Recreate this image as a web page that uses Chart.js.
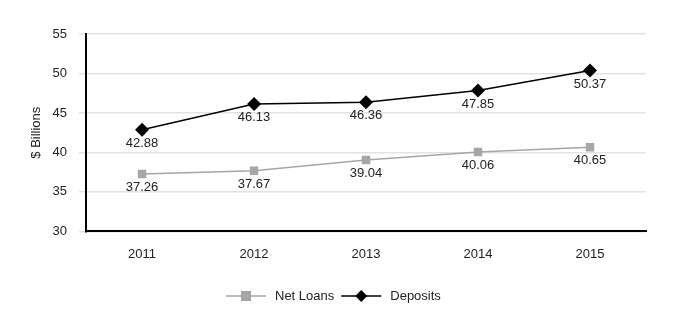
<!DOCTYPE html>
<html>
<head>
<meta charset="utf-8">
<script src="https://cdn.jsdelivr.net/npm/chart.js@4/dist/chart.umd.min.js"></script>
<style>
  html, body { margin: 0; padding: 0; background: #fff; }
  #wrap { width: 680px; height: 333px; }
</style>
</head>
<body>
<div id="wrap"><canvas id="chart" width="680" height="333"></canvas></div>
<script>
const years = ['2011', '2012', '2013', '2014', '2015'];
const netLoans = [37.26, 37.67, 39.04, 40.06, 40.65];
const deposits = [42.88, 46.13, 46.36, 47.85, 50.37];
const yTicks = [30, 35, 40, 45, 50, 55];

const FONT = 'Liberation Sans, Arial, sans-serif';

// value labels under each marker
const valueLabels = {
    id: 'valueLabels',
    afterDatasetsDraw(chart) {
        const ctx = chart.ctx;
        ctx.save();
        ctx.font = '13px ' + FONT;
        ctx.fillStyle = '#222';
        ctx.textAlign = 'center';
        ctx.textBaseline = 'top';
        chart.data.datasets.forEach((ds, i) => {
            chart.getDatasetMeta(i).data.forEach((pt, j) => {
                ctx.fillText(ds.data[j].toFixed(2), pt.x, pt.y + 7);
            });
        });
        ctx.restore();
    }
};

// legend: short line with marker in the middle
const lineLegend = {
    id: 'lineLegend',
    afterDraw(chart) {
        const ctx = chart.ctx;
        ctx.save();
        ctx.font = '13px ' + FONT;
        ctx.textBaseline = 'middle';
        const y = 296;
        let x = 226;
        chart.data.datasets.forEach(ds => {
            ctx.strokeStyle = ds.borderColor;
            ctx.lineWidth = 1.5;
            ctx.beginPath();
            ctx.moveTo(x, y);
            ctx.lineTo(x + 40, y);
            ctx.stroke();
            ctx.fillStyle = ds.pointBackgroundColor;
            ctx.beginPath();
            if (ds.pointStyle === 'rectRot') {
                ctx.moveTo(x + 20, y - 6);
                ctx.lineTo(x + 26, y);
                ctx.lineTo(x + 20, y + 6);
                ctx.lineTo(x + 14, y);
                ctx.closePath();
            } else {
                ctx.rect(x + 15, y - 5, 10, 10);
            }
            ctx.fill();
            ctx.fillStyle = '#222';
            ctx.fillText(ds.label, x + 49, y);
            x += 49 + ctx.measureText(ds.label).width + 7;
        });
        ctx.restore();
    }
};

new Chart(document.getElementById('chart'), {
    type: 'line',
    data: {
        labels: years,
        datasets: [{
            label: 'Net Loans',
            data: netLoans,
            borderColor: '#a6a6a6',
            backgroundColor: '#a6a6a6',
            pointBackgroundColor: '#a6a6a6',
            pointBorderWidth: 0,
            borderWidth: 1.5,
            pointStyle: 'rect',
            pointRadius: 6,
            tension: 0
        }, {
            label: 'Deposits',
            data: deposits,
            borderColor: '#000',
            backgroundColor: '#000',
            pointBackgroundColor: '#000',
            pointBorderWidth: 0,
            borderWidth: 1.5,
            pointStyle: 'rectRot',
            pointRadius: 7,
            tension: 0
        }]
    },
    options: {
        responsive: false,
        animation: false,
        layout: { padding: { top: 34, right: 34, bottom: 56, left: 29 } },
        plugins: {
            legend: { display: false },
            tooltip: { enabled: false }
        },
        scales: {
            x: {
                offset: true,
                grid: { display: false, drawTicks: false },
                border: { color: '#000', width: 2 },
                ticks: { color: '#222', font: { family: FONT, size: 13 }, padding: 15 }
            },
            y: {
                min: 30,
                max: 55,
                afterBuildTicks(axis) { axis.ticks = yTicks.map(v => ({ value: v })); },
                grid: { color: '#e3e3e3', tickLength: 7, lineWidth: 1.5 },
                border: { color: '#000', width: 2 },
                ticks: { color: '#222', font: { family: FONT, size: 13 }, padding: 12 },
                title: { display: true, text: '$ Billions', color: '#222', font: { family: FONT, size: 13 }, padding: { top: 0, bottom: -4 } }
            }
        }
    },
    plugins: [valueLabels, lineLegend]
});
</script>
</body>
</html>
